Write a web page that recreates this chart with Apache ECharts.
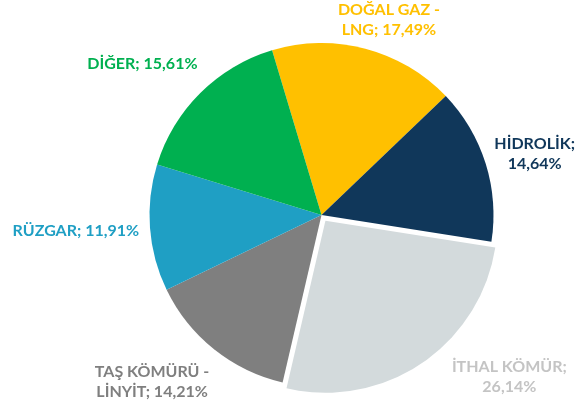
<!DOCTYPE html>
<html>
<head>
<meta charset="utf-8">
<script src="https://cdn.jsdelivr.net/npm/echarts@6/dist/echarts.min.js"></script>
<style>
  html, body { margin: 0; padding: 0; background: #fff; }
  #chart { width: 587px; height: 405px; }
</style>
</head>
<body>
<div id="chart"></div>
<script>
// kaynak payları (%)
var names = ["DOĞAL GAZ - LNG", "HİDROLİK", "İTHAL KÖMÜR", "TAŞ KÖMÜRÜ - LİNYİT", "RÜZGAR", "DİĞER"];
var values = [17.49, 14.64, 26.14, 14.21, 11.91, 15.61];
var colors = ["#FFC000", "#10375A", "#D3DADC", "#7F7F7F", "#1F9FC4", "#00B050"];
var labelColors = ["#FFC000", "#10375A", "#C4C4C4", "#7F7F7F", "#1F9FC4", "#00B050"];
// label satir kirma: "mid" = isimde " - " sonrasi, "sep" = ";" sonrasi
var labelWrap = ["mid", "sep", "sep", "mid", "none", "none"];
var labelNudge = [[8, 0], [1, -1], [54, -6], [-20, 9], [-1, 1], [-12, -15]];
var explodeIndex = 2;
var explodeOffset = 7;

var cx = 321.5, cy = 215, R = 172;
var startDeg = -16.7; // saat yonunde, tepeden
var total = values.reduce(function (a, b) { return a + b; }, 0);

function midAngle(i) {
  var acc = 0;
  for (var k = 0; k < i; k++) acc += values[k];
  var a = startDeg + (acc + values[i] / 2) / total * 360;
  return a * Math.PI / 180;
}

function fmt(v) {
  return v.toFixed(2).replace(".", ",") + "%";
}

var labelStyle = {
  position: "outside",
  fontFamily: "Lato",
  fontWeight: "bold",
  fontSize: 16,
  lineHeight: 20,
  formatter: function (p) {
    var i = p.dataIndex;
    var v = fmt(values[i]);
    if (labelWrap[i] === "mid") {
      var parts = names[i].split(" - ");
      return parts[0] + " -\n" + parts[1] + "; " + v;
    }
    if (labelWrap[i] === "sep") return names[i] + ";\n" + v;
    return names[i] + "; " + v;
  }
};

function placeLabel(params) {
  var i = params.dataIndex;
  var a = midAngle(i);
  var ux = Math.sin(a), uy = -Math.cos(a);
  var w = params.labelRect.width, h = params.labelRect.height;
  var gap = 10;
  return {
    x: cx + (R + gap) * ux + ux * w / 2 + labelNudge[i][0],
    y: cy + (R + gap) * uy + uy * h / 2 + labelNudge[i][1],
    align: "center",
    verticalAlign: "middle"
  };
}

// exploded = true ise sadece ayrilan dilim gorunur
function makeData(exploded) {
  return names.map(function (n, i) {
    var visible = exploded ? i === explodeIndex : i !== explodeIndex;
    return {
      name: n,
      value: values[i],
      itemStyle: { color: visible ? colors[i] : "rgba(0,0,0,0)" },
      label: { show: visible, color: labelColors[i] }
    };
  });
}

var ea = midAngle(explodeIndex);
var baseSeries = {
  type: "pie",
  radius: R,
  startAngle: 90 - startDeg,
  clockwise: true,
  avoidLabelOverlap: false,
  silent: true,
  label: labelStyle,
  labelLine: { show: false },
  labelLayout: placeLabel
};

var chart = echarts.init(document.getElementById("chart"));
var option = {
  animation: false,
  series: [
    Object.assign({}, baseSeries, { center: [cx, cy], data: makeData(false) }),
    Object.assign({}, baseSeries, {
      center: [cx + explodeOffset * Math.sin(ea), cy - explodeOffset * Math.cos(ea)],
      data: makeData(true)
    })
  ]
};
chart.setOption(option);
</script>
</body>
</html>
